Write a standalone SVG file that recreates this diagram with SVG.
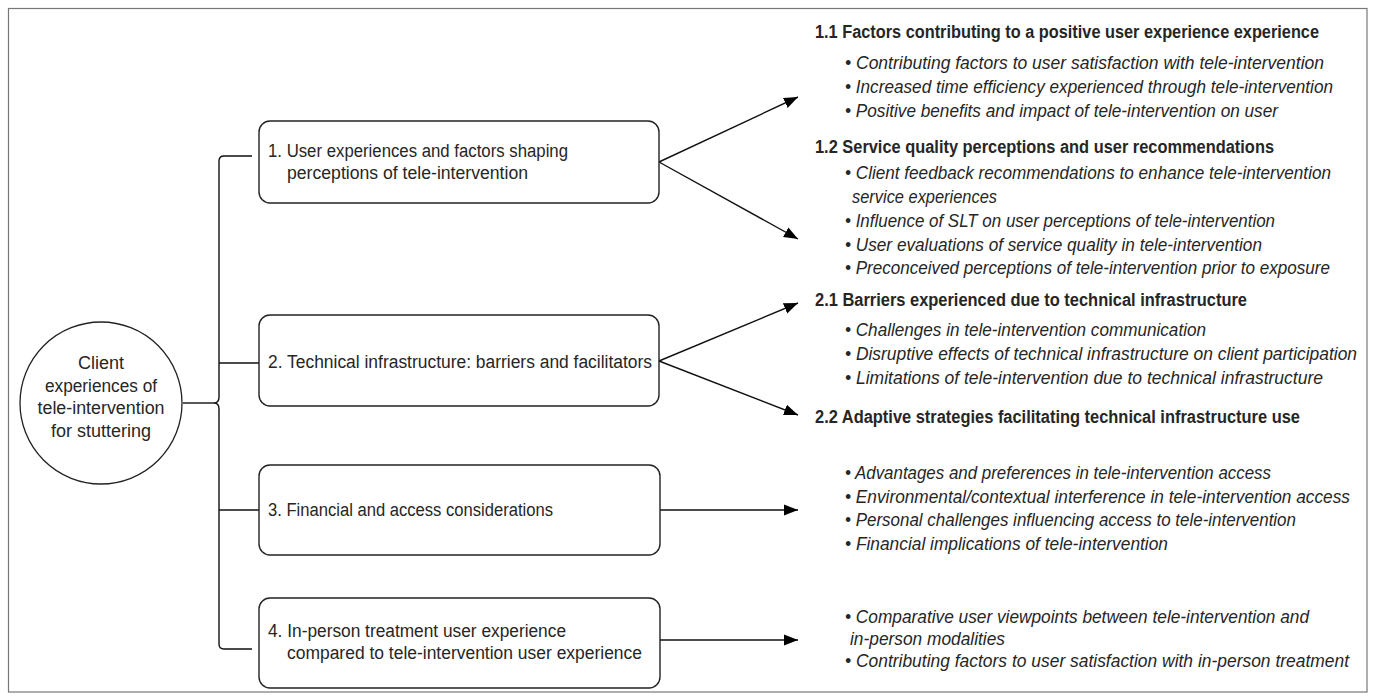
<svg xmlns="http://www.w3.org/2000/svg" width="1375" height="700" viewBox="0 0 1375 700">
<style>
text{font-family:"Liberation Sans",Arial,sans-serif;font-size:18px;fill:#262626}
.b{font-weight:bold;font-size:17.5px}
.i{font-style:italic}
.c{text-anchor:middle}
.box{fill:#fff;stroke:#222;stroke-width:1.4}
.ln{fill:none;stroke:#111;stroke-width:1.4}
</style>
<defs>
<marker id="ah" markerUnits="userSpaceOnUse" markerWidth="16" markerHeight="14" refX="14" refY="7" orient="auto">
<path d="M0,1.5 L14,7 L0,12.5 Z" fill="#000"/>
</marker>
</defs>
<rect x="8.5" y="8.5" width="1358.5" height="683.5" fill="#fff" stroke="#777" stroke-width="1.2"/>

<g id="connectors">
<path class="ln" d="M252,156 L224,156 Q219,156 219,161 L219,397 Q219,403 214,403 Q219,403 219,409 L219,644 Q219,649 224,649 L252,649"/>
<line class="ln" x1="183" y1="403" x2="214" y2="403"/>
<line class="ln" x1="219" y1="363" x2="259" y2="363"/>
<line class="ln" x1="219" y1="510" x2="259" y2="510"/>
<line class="ln" x1="659" y1="162" x2="798" y2="97" marker-end="url(#ah)"/>
<line class="ln" x1="659" y1="162" x2="798" y2="239" marker-end="url(#ah)"/>
<line class="ln" x1="659" y1="361" x2="798" y2="303" marker-end="url(#ah)"/>
<line class="ln" x1="659" y1="361" x2="798" y2="415" marker-end="url(#ah)"/>
<line class="ln" x1="660" y1="510" x2="798" y2="510" marker-end="url(#ah)"/>
<line class="ln" x1="660" y1="640" x2="798" y2="640" marker-end="url(#ah)"/>
</g>

<g id="root">
<circle cx="101" cy="403" r="81" fill="#fff" stroke="#222" stroke-width="1.3"/>
<text class="c" x="101" y="369">Client</text>
<text class="c" x="101" y="392" textLength="112" lengthAdjust="spacingAndGlyphs">experiences of</text>
<text class="c" x="101" y="414" textLength="127" lengthAdjust="spacingAndGlyphs">tele-intervention</text>
<text class="c" x="101" y="437" textLength="100" lengthAdjust="spacingAndGlyphs">for stuttering</text>
</g>

<g id="theme1">
<rect class="box" x="259" y="121" width="400" height="82" rx="11"/>
<text x="268" y="157" textLength="300" lengthAdjust="spacingAndGlyphs">1. User experiences and factors shaping</text>
<text x="287" y="179" textLength="241" lengthAdjust="spacingAndGlyphs">perceptions of tele-intervention</text>
</g>
<g id="theme2">
<rect class="box" x="259" y="315" width="400" height="91" rx="11"/>
<text x="268" y="368" textLength="384" lengthAdjust="spacingAndGlyphs">2. Technical infrastructure: barriers and facilitators</text>
</g>
<g id="theme3">
<rect class="box" x="259" y="465" width="401" height="90" rx="11"/>
<text x="268" y="516" textLength="285" lengthAdjust="spacingAndGlyphs">3. Financial and access considerations</text>
</g>
<g id="theme4">
<rect class="box" x="259" y="598" width="401" height="90" rx="11"/>
<text x="268" y="637" textLength="298" lengthAdjust="spacingAndGlyphs">4. In-person treatment user experience</text>
<text x="287" y="659" textLength="355" lengthAdjust="spacingAndGlyphs">compared to tele-intervention user experience</text>
</g>

<g id="sub1-1">
<text class="b" x="815" y="38" textLength="504" lengthAdjust="spacingAndGlyphs">1.1 Factors contributing to a positive user experience experience</text>
<text class="i" x="845" y="69" textLength="479" lengthAdjust="spacingAndGlyphs">• Contributing factors to user satisfaction with tele-intervention</text>
<text class="i" x="845" y="93" textLength="488" lengthAdjust="spacingAndGlyphs">• Increased time efficiency experienced through tele-intervention</text>
<text class="i" x="845" y="117" textLength="433" lengthAdjust="spacingAndGlyphs">• Positive benefits and impact of tele-intervention on user</text>
</g>
<g id="sub1-2">
<text class="b" x="815" y="153" textLength="459" lengthAdjust="spacingAndGlyphs">1.2 Service quality perceptions and user recommendations</text>
<text class="i" x="845" y="179" textLength="486" lengthAdjust="spacingAndGlyphs">• Client feedback recommendations to enhance tele-intervention</text>
<text class="i" x="852" y="203" textLength="145" lengthAdjust="spacingAndGlyphs">service experiences</text>
<text class="i" x="845" y="227" textLength="430" lengthAdjust="spacingAndGlyphs">• Influence of SLT on user perceptions of tele-intervention</text>
<text class="i" x="845" y="251" textLength="417" lengthAdjust="spacingAndGlyphs">• User evaluations of service quality in tele-intervention</text>
<text class="i" x="845" y="274" textLength="485" lengthAdjust="spacingAndGlyphs">• Preconceived perceptions of tele-intervention prior to exposure</text>
</g>
<g id="sub2-1">
<text class="b" x="815" y="306" textLength="432" lengthAdjust="spacingAndGlyphs">2.1 Barriers experienced due to technical infrastructure</text>
<text class="i" x="845" y="336" textLength="361" lengthAdjust="spacingAndGlyphs">• Challenges in tele-intervention communication</text>
<text class="i" x="845" y="360" textLength="512" lengthAdjust="spacingAndGlyphs">• Disruptive effects of technical infrastructure on client participation</text>
<text class="i" x="845" y="384" textLength="478" lengthAdjust="spacingAndGlyphs">• Limitations of tele-intervention due to technical infrastructure</text>
</g>
<g id="sub2-2">
<text class="b" x="815" y="423" textLength="485" lengthAdjust="spacingAndGlyphs">2.2 Adaptive strategies facilitating technical infrastructure use</text>
</g>
<g id="sub3">
<text class="i" x="845" y="479" textLength="426" lengthAdjust="spacingAndGlyphs">• Advantages and preferences in tele-intervention access</text>
<text class="i" x="845" y="503" textLength="505" lengthAdjust="spacingAndGlyphs">• Environmental/contextual interference in tele-intervention access</text>
<text class="i" x="845" y="526" textLength="451" lengthAdjust="spacingAndGlyphs">• Personal challenges influencing access to tele-intervention</text>
<text class="i" x="845" y="550" textLength="323" lengthAdjust="spacingAndGlyphs">• Financial implications of tele-intervention</text>
</g>
<g id="sub4">
<text class="i" x="845" y="623" textLength="464" lengthAdjust="spacingAndGlyphs">• Comparative user viewpoints between tele-intervention and</text>
<text class="i" x="850" y="645" textLength="155" lengthAdjust="spacingAndGlyphs">in-person modalities</text>
<text class="i" x="845" y="667" textLength="504" lengthAdjust="spacingAndGlyphs">• Contributing factors to user satisfaction with in-person treatment</text>
</g>
</svg>
